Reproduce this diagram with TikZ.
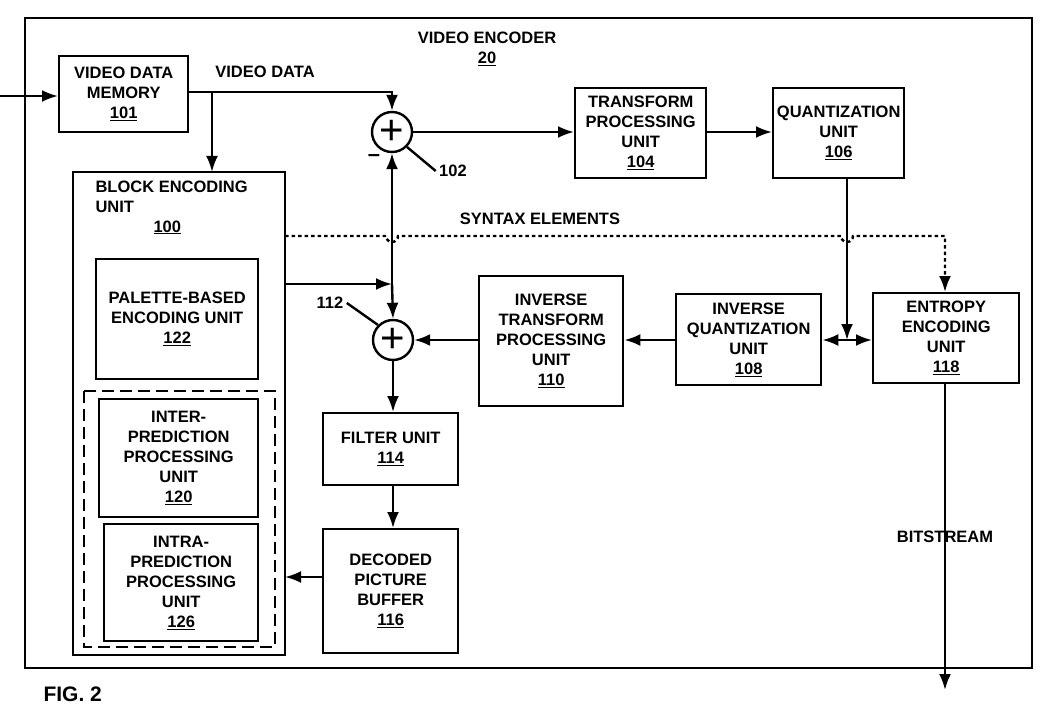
\documentclass[tikz,border=0pt]{standalone}
\usepackage{fontspec}
\setmainfont{Liberation Sans}
\usetikzlibrary{positioning,arrows.meta}
\newcommand{\num}[1]{\underline{#1}}
\tikzset{
  box/.style={draw, line width=2.4pt, align=center, anchor=north west, inner sep=2pt},
  adder/.style={draw, circle, line width=2.4pt, minimum size=40pt, inner sep=0pt},
  wire/.style={line width=2.4pt},
  arr/.style={wire, -{Latex[length=16pt,width=12pt]}},
  dot/.style={line width=2.4pt, dash pattern=on 3.5pt off 3pt},
}
\begin{document}
\begin{tikzpicture}[x=1pt,y=-1pt, font=\fontsize{16.5}{20}\selectfont\bfseries]
\useasboundingbox (0,0) rectangle (1051,727);
\draw[line width=2.4pt] (25,18) rectangle (1032,668);
\node[align=center] (enc) at (487,49) {VIDEO ENCODER\\\num{20}};
% units
\node[box, minimum width=129pt, minimum height=76pt] (vdm) at (58,55) {VIDEO DATA\\MEMORY\\\num{101}};
\node[box, minimum width=131pt, minimum height=90pt] (tpu) at (574,87) {TRANSFORM\\PROCESSING\\UNIT\\\num{104}};
\node[box, minimum width=131pt, minimum height=90pt] (qu) at (772,87) {QUANTIZATION\\UNIT\\\num{106}};
\draw[line width=2.4pt] (73,172) rectangle (285,655);
\node[align=left, anchor=north west] (beulab) at (92,177) {BLOCK ENCODING\\UNIT\\\hspace*{58pt}\num{100}};
\node[box, minimum width=162pt, minimum height=120pt] (pal) at (95,258) {PALETTE-BASED\\ENCODING UNIT\\\num{122}};
\draw[line width=2.4pt, dash pattern=on 12pt off 6pt] (84,391) rectangle (275,647);
\node[box, minimum width=159pt, minimum height=118pt] (inter) at (98,398) {INTER-\\PREDICTION\\PROCESSING\\UNIT\\\num{120}};
\node[box, minimum width=154pt, minimum height=117pt] (intra) at (103,523) {INTRA-\\PREDICTION\\PROCESSING\\UNIT\\\num{126}};
\node[box, minimum width=144pt, minimum height=130pt] (itpu) at (478,275) {INVERSE\\TRANSFORM\\PROCESSING\\UNIT\\\num{110}};
\node[box, minimum width=145pt, minimum height=91pt] (iqu) at (675,293) {INVERSE\\QUANTIZATION\\UNIT\\\num{108}};
\node[box, minimum width=146pt, minimum height=90pt] (ent) at (872,292) {ENTROPY\\ENCODING\\UNIT\\\num{118}};
\node[box, minimum width=135pt, minimum height=72pt] (filt) at (322,412) {FILTER UNIT\\\num{114}};
\node[box, minimum width=135pt, minimum height=124pt] (dpb) at (322,528) {DECODED\\PICTURE\\BUFFER\\\num{116}};
\node[adder] (add1) at (392,132) {\fontsize{42}{42}\selectfont\mdseries +};
\node[adder] (add2) at (393,340) {\fontsize{42}{42}\selectfont\mdseries +};
% labels
\node (vdlab) at (265,72) {VIDEO DATA};
\node (minus) at (374,158) {\fontsize{22}{22}\selectfont --};
\node (l102) at (453,171) {102};
\draw[wire] (add1.-45) -- (l102.west);
\node (l112) at (330,303) {112};
\draw[wire] (add2.135) -- (l112.east);
\node (synlab) at (540,219) {SYNTAX ELEMENTS};
\node (bslab) at (945,537) {BITSTREAM};
\node[anchor=west] (fig) at (40,694) {\fontsize{21}{21}\selectfont FIG. 2};
% connectors
\coordinate (in) at (0,96);
\draw[arr] (in) -- (vdm.west |- in);
\coordinate (j1) at (212,92);
\draw[arr] (vdm.east |- j1) -- (add1.north |- j1) -- (add1.north);
\draw[arr] (j1) -- (212,172);
\draw[arr] (add1.east) -- (tpu.west |- add1.east);
\draw[arr] (tpu.east |- add1.east) -- (qu.west |- add1.east);
\coordinate (j2) at (392,284);
\draw[arr] (285,284) -- (j2);
\draw[arr] (j2) -- (add1.south);
\draw[arr] (j2) -- (add2.north);
\draw[arr] (itpu.west |- add2) -- (add2.east);
\draw[arr] (iqu.west |- add2) -- (itpu.east |- add2);
\coordinate (j3) at (847,340);
\coordinate (qout) at (847,177);
\draw[arr] (qout) -- (j3);
\draw[arr] (j3) -- (iqu.east |- j3);
\draw[arr] (j3) -- (ent.west |- j3);
\draw[arr] (add2.south) -- (filt.north -| add2.south);
\draw[arr] (filt.south -| add2.south) -- (dpb.north -| add2.south);
\draw[arr] (dpb.west |- 0,577) -- (285,577);
\coordinate (out) at (945,690);
\draw[arr] (ent.south -| out) -- (out);
\draw[dot, -{Latex[length=16pt,width=12pt]}] (285,236) -- (386,236) arc[start angle=180, end angle=0, radius=6]
  -- (841,236) arc[start angle=180, end angle=0, radius=6] -- (945,236) -- (ent.north -| out);
\end{tikzpicture}
\end{document}
